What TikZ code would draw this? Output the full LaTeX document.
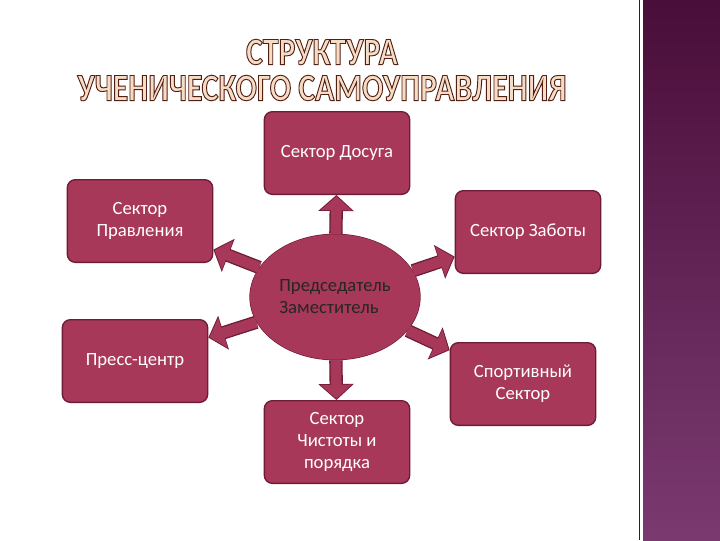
\documentclass[tikz,border=0pt]{standalone}
\usepackage{fontspec}
\setmainfont{Carlito}
\newfontfamily\titlefont[FakeStretch=0.82]{Carlito}
\usetikzlibrary{arrows.meta,positioning,shapes.geometric}
\definecolor{boxfill}{HTML}{A8385A}
\definecolor{boxline}{HTML}{6E1C36}
\definecolor{stripetop}{HTML}{4A0E3A}
\definecolor{stripebot}{HTML}{7A3A70}
\definecolor{titlefill}{HTML}{F6DCC4}
\tikzset{
    % sector box style
    sector/.style={
        rectangle,
        rounded corners=6pt,
        minimum width=109pt,
        minimum height=62pt,
        align=center,
        font=\fontsize{14}{16.5}\selectfont,
        text=white,
        draw=boxline,
        fill=boxfill,
        line width=1pt
    },
    % centre node
    chair/.style={
        ellipse,
        minimum width=106pt,
        minimum height=94pt,
        align=left,
        font=\fontsize{14}{16.5}\selectfont,
        text=black!85,
        draw=boxline,
        fill=boxfill,
        line width=1pt
    },
    % block arrows
    blockline/.style={
        -{Triangle[width=26pt,length=12pt]},
        line width=10pt,
        color=boxline
    },
    blockfill/.style={
        -{Triangle[width=23pt,length=10.5pt]},
        line width=8pt,
        color=boxfill,
        shorten >=1pt
    },
    % title
    title text/.style={
        font=\titlefont\bfseries\fontsize{29}{27}\selectfont,
        text=titlefill,
        align=center
    }
}
\newcommand{\outlined}[1]{\special{pdf:literal direct 2 Tr 0.7 w 0.32 0.12 0.08 RG}#1\special{pdf:literal direct 0 Tr}}
\begin{document}
\begin{tikzpicture}[x=0.75pt,y=-0.75pt]
        \useasboundingbox (0,0) rectangle (720,540);
        \fill[white] (0,0) rectangle (720,540);

        % right stripe
        \shade[top color=stripetop, bottom color=stripebot] (643,0) rectangle (720,540);
        \draw[stripetop, line width=0.6pt] (639,0) -- (639,540);

        % title
        \node[title text] (title) at (322,70) {\outlined{СТРУКТУРА}\\\outlined{УЧЕНИЧЕСКОГО САМОУПРАВЛЕНИЯ}};

        % sectors
        \node[sector] (leisure) at (337,153) {Сектор Досуга};
        \node[sector] (govern) at (140,221) {Сектор\\Правления};
        \node[sector] (care) at (528,232) {Сектор Заботы};
        \node[sector] (press) at (135,361) {Пресс-центр};
        \node[sector] (sport) at (523,384) {Спортивный\\Сектор};
        \node[sector] (clean) at (337,442) {Сектор\\Чистоты и\\порядка};

        % centre
        \node[chair] (head) at (335,297) {Председатель\\Заместитель};

        % arrows
        \foreach \t in {leisure,govern,care,press,sport,clean}{
            \draw[blockline] (head) -- (\t);
            \draw[blockfill] (head) -- (\t);
        }
        \node[chair, draw=none] at (head) {Председатель\\Заместитель};

    \end{tikzpicture}
\end{document}
